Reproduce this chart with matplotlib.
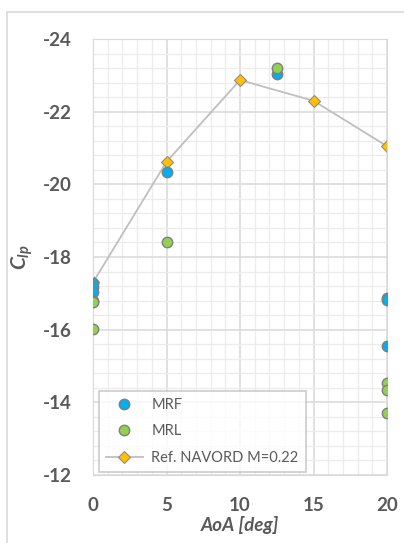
import matplotlib.pyplot as plt
from matplotlib.patches import Rectangle
from matplotlib.ticker import MultipleLocator

plt.rcParams['font.family'] = ['Lato', 'DejaVu Sans']
plt.rcParams['axes.unicode_minus'] = False
plt.rcParams['mathtext.fontset'] = 'custom'
plt.rcParams['mathtext.it'] = 'Lato:bold:italic'
plt.rcParams['mathtext.rm'] = 'Lato:bold'

# MRF measurements
mrf_aoa = [0, 0, 0, 5, 12.5, 20, 20, 20]
mrf_cp = [-17.29, -17.17, -17.04, -20.34, -23.04, -16.86, -16.82, -15.55]

# MRL measurements
mrl_aoa = [0, 0, 0, 5, 12.5, 20, 20, 20]
mrl_cp = [-16.80, -16.75, -16.03, -18.42, -23.20, -14.52, -14.33, -13.71]

# reference curve
ref_aoa = [0, 5, 10, 15, 20]
ref_cp = [-17.3, -20.62, -22.87, -22.30, -21.05]

txt = '#595959'
fig = plt.figure(figsize=(4.04, 5.43), dpi=100)
fig.patches.append(Rectangle((7 / 404, -0.1), 1.2, 1 - 12 / 543 + 0.1,
                             transform=fig.transFigure, fill=False,
                             edgecolor='#d9d9d9', lw=1.2))
ax = fig.add_axes([93 / 404, 1 - 475 / 543, 294 / 404, 436 / 543])

ax.plot(ref_aoa, ref_cp, color='#bfbfbf', lw=1.3, marker='D', ms=6,
        mfc='#ffc000', mec='#8c8c8c', mew=0.8, zorder=2,
        label='Ref. NAVORD M=0.22')
ax.plot(mrf_aoa, mrf_cp, 'o', ms=7.5, mfc='#00b0f0', mec='#7f7f7f', mew=1,
        zorder=3, label='MRF')
ax.plot(mrl_aoa, mrl_cp, 'o', ms=7.5, mfc='#92d050', mec='#7f7f7f', mew=1,
        zorder=3, label='MRL')

ax.set_xlim(0, 20)
ax.set_ylim(-12, -24)
ax.xaxis.set_major_locator(MultipleLocator(5))
ax.xaxis.set_minor_locator(MultipleLocator(1))
ax.yaxis.set_major_locator(MultipleLocator(2))
ax.yaxis.set_minor_locator(MultipleLocator(0.4))
ax.grid(which='major', color='#d9d9d9', lw=1.1)
ax.grid(which='minor', color='#ececec', lw=0.9)
ax.set_axisbelow(True)
for s in ax.spines.values():
    s.set_color('#d9d9d9')
ax.tick_params(which='both', length=0, labelsize=13.5, colors=txt)
ax.tick_params(axis='y', pad=15)
ax.tick_params(axis='x', pad=16)
for lab in ax.get_xticklabels() + ax.get_yticklabels():
    lab.set_fontweight('bold')

ax.set_xlabel('AoA [deg]', fontsize=13.5, fontweight='bold', style='italic',
              color=txt, labelpad=1)
ax.set_ylabel(r'$C_{lp}$', fontsize=15, color=txt, labelpad=6)

h, l = ax.get_legend_handles_labels()
leg = ax.legend([h[1], h[2], h[0]], [l[1], l[2], l[0]], loc='lower left',
                bbox_to_anchor=(0.01, 0.0), borderaxespad=0.2, fontsize=10.5,
                frameon=True, fancybox=False, edgecolor='#bfbfbf',
                labelcolor=txt, handlelength=2.5, handletextpad=0.6,
                borderpad=0.5, labelspacing=0.85)
leg.get_frame().set_linewidth(1.2)

fig.savefig('out.png', dpi=100)
